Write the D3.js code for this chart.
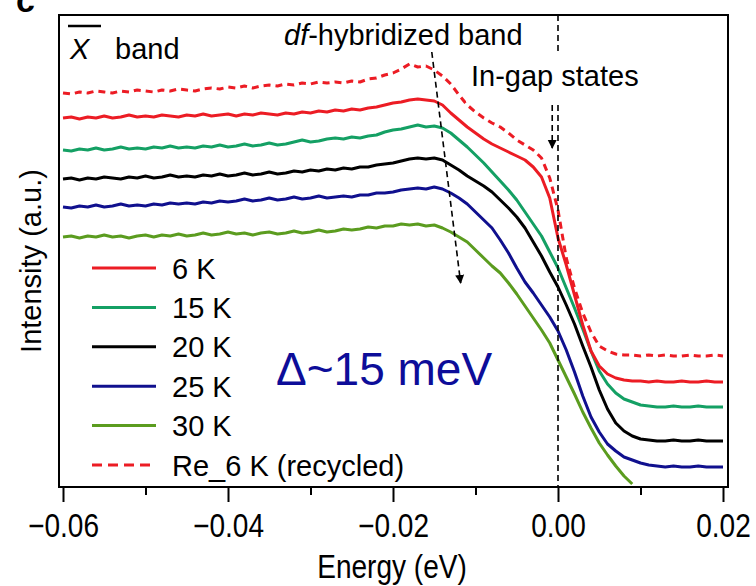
<!DOCTYPE html>
<html>
<head>
<meta charset="utf-8">
<title>ARPES temperature dependence</title>
<script src="https://cdnjs.cloudflare.com/ajax/libs/d3/7.8.5/d3.min.js"></script>
<style>
  body { margin: 0; background: #fff; }
  text { font-family: "Liberation Sans", Arial, Helvetica, sans-serif; }
</style>
</head>
<body>
<svg></svg>
<script>
// energy grid in meV (-60 ... 20, 1 meV step)
var energyMeV = d3.range(-60, 21);

// intensities (a.u.), one value per meV
var re6K = [407,406,408,407,409,408,407,409,408,410,409,408,410,409,411,410,409,411,412,411,
  413,412,414,412,414,415,414,416,415,417,416,418,417,418,417,419,418,421,422,425,
  427,431,436,433,434,430,424,416,405,395,388,382,377,373,367,360,355,350,342,322,
  290,242,212,187,168,154,149,146,145,145,144,145,144,145,144,144,145,144,144,145,144];
var k6 = [382,383,381,383,382,384,382,383,385,383,384,383,385,384,383,385,384,386,384,385,
  386,384,386,385,387,386,385,387,386,388,387,389,388,390,389,391,390,392,393,395,
  397,398,400,401,400,399,395,387,380,373,367,361,356,352,348,344,340,333,323,302,
  262,235,205,175,149,134,126,122,120,119,119,118,119,118,118,119,118,118,119,118,118];
var k15 = [350,349,351,350,352,350,351,353,351,352,351,353,352,354,352,353,352,354,353,355,
  353,354,356,354,355,357,355,356,358,360,358,359,361,362,361,363,362,364,365,368,
  370,371,373,375,373,374,372,367,360,353,345,337,328,319,310,300,288,276,264,248,
  232,212,192,171,149,129,116,107,101,98,95,94,93,93,94,93,93,94,93,93,93];
var k20 = [321,322,320,322,321,323,322,321,323,322,324,322,323,325,323,324,323,325,324,326,
  324,325,327,325,326,328,326,327,329,328,330,329,331,330,332,331,333,333,335,336,
  337,339,341,342,341,342,340,335,330,324,319,314,308,300,292,283,272,258,244,228,
  213,195,176,154,133,110,91,77,69,64,61,60,59,59,60,59,59,60,59,59,59];
var k25 = [293,292,294,293,295,293,294,296,294,295,294,296,295,297,296,297,296,298,297,299,
  298,299,301,299,300,302,300,301,303,301,302,304,302,303,304,303,305,305,307,307,
  308,310,311,312,311,313,311,307,302,296,288,280,272,260,247,232,218,207,195,183,
  169,150,128,104,83,68,56,49,43,40,37,35,34,33,34,33,33,34,33,33,33];
// 30 K trace stops at +9 meV
var k30 = [263,264,262,264,263,265,263,264,262,264,265,263,265,264,266,264,265,267,265,266,
  268,266,267,265,267,268,266,267,269,267,268,270,268,269,271,270,271,273,272,274,
  274,276,275,276,274,275,272,268,263,258,250,242,234,227,217,206,194,182,170,157,
  140,123,106,88,72,57,45,34,24,16];

var seriesNames = ["6 K", "15 K", "20 K", "25 K", "30 K", "Re_6 K (recycled)"];
var seriesValues = [k6, k15, k20, k25, k30, re6K];
var seriesColors = ["#ec1c24", "#14a064", "#000000", "#10108e", "#5b9c1f", "#ec1c24"];
var seriesDash = [null, null, null, null, null, "7,5"];

var majorTicks = [-0.06, -0.04, -0.02, 0.00, 0.02];
var minorTicks = [-0.05, -0.03, -0.01, 0.01];

// annotation arrows: [E_start (eV), I_start, E_end, I_end]
var hybridArrow = [-0.0153, 448, -0.0118, 217];
var gapArrow = [-0.0007, 395, -0.0007, 352];

var w = 756, h = 586;
var frame = {left: 59, right: 728, top: 15, bottom: 487};

var svg = d3.select("svg").attr("width", w).attr("height", h);

var x = d3.scaleLinear().domain([-0.06, 0.02]).range([63, 723]);
var y = d3.scaleLinear().domain([13, 485]).range([487, 15]);

// panel letter, cut off at the top like in the figure
svg.append("text").attr("x", 16).attr("y", 12)
  .style("font-size", "34px").style("font-weight", "bold").text("c");

// curves
var line = d3.line()
  .x(function(d) { return x(d[0] / 1000); })
  .y(function(d) { return y(d[1]); });

// draw bottom to top so the red ones sit on top
for (var s = 4; s >= 0; s--) {
  drawSeries(s);
}
drawSeries(5);

function drawSeries(s) {
  var pts = seriesValues[s].map(function(v, i) { return [energyMeV[i], v]; });
  svg.append("path")
    .datum(pts)
    .attr("d", line)
    .attr("fill", "none")
    .attr("stroke", seriesColors[s])
    .attr("stroke-width", 3)
    .attr("stroke-linejoin", "round")
    .attr("stroke-dasharray", seriesDash[s]);
}

// E_F line
svg.append("line")
  .attr("x1", x(0)).attr("x2", x(0))
  .attr("y1", frame.top).attr("y2", frame.bottom)
  .attr("stroke", "#000").attr("stroke-width", 1.6)
  .attr("stroke-dasharray", "6,4");

// arrows
var defs = svg.append("defs");
defs.append("marker")
  .attr("id", "head")
  .attr("viewBox", "0 0 10 10")
  .attr("refX", 9).attr("refY", 5)
  .attr("markerWidth", 9).attr("markerHeight", 14)
  .attr("markerUnits", "userSpaceOnUse")
  .attr("orient", "auto")
  .append("path").attr("d", "M0,0 L10,5 L0,10 Z").attr("fill", "#000");

[hybridArrow, gapArrow].forEach(function(a) {
  svg.append("line")
    .attr("x1", x(a[0])).attr("y1", y(a[1]))
    .attr("x2", x(a[2])).attr("y2", y(a[3]))
    .attr("stroke", "#000").attr("stroke-width", 1.6)
    .attr("stroke-dasharray", "6,4")
    .attr("marker-end", "url(#head)");
});

// labels inside the frame
var xbar = svg.append("g");
xbar.append("line").attr("x1", 68).attr("x2", 101).attr("y1", 26).attr("y2", 26)
  .attr("stroke", "#000").attr("stroke-width", 2.5);
xbar.append("text").attr("x", 70).attr("y", 59)
  .style("font-size", "29px").style("font-style", "italic").text("X");
xbar.append("text").attr("x", 115).attr("y", 59)
  .style("font-size", "29px").text("band");

var hyb = svg.append("text").attr("x", 284).attr("y", 45).style("font-size", "29px");
hyb.append("tspan").style("font-style", "italic").text("df");
hyb.append("tspan").text("-hybridized band");

svg.append("rect").attr("x", 466).attr("y", 52).attr("width", 184).attr("height", 50)
  .attr("fill", "#fff");
svg.append("text").attr("x", 471).attr("y", 86)
  .style("font-size", "29px").text("In-gap states");

svg.append("text").attr("x", 276).attr("y", 385)
  .style("font-size", "46px").attr("fill", "#0d0d99").text("Δ~15 meV");

// legend
var legend = svg.append("g");
seriesNames.forEach(function(name, i) {
  var ly = 268 + i * 39.4;
  legend.append("line")
    .attr("x1", 92).attr("x2", 156).attr("y1", ly).attr("y2", ly)
    .attr("stroke", seriesColors[i]).attr("stroke-width", 3)
    .attr("stroke-dasharray", seriesDash[i] ? "10,6" : null);
  legend.append("text").attr("x", 172).attr("y", ly + 10.5)
    .style("font-size", "29px").text(name);
});

// frame
svg.append("rect")
  .attr("x", frame.left).attr("y", frame.top)
  .attr("width", frame.right - frame.left).attr("height", frame.bottom - frame.top)
  .attr("fill", "none").attr("stroke", "#000").attr("stroke-width", 2);

// x axis
var axMajor = svg.append("g").attr("transform", "translate(0," + frame.bottom + ")")
  .call(d3.axisBottom(x).tickValues(majorTicks).tickSize(15).tickSizeOuter(0)
    .tickPadding(6).tickFormat(d3.format(".2f")));
var axMinor = svg.append("g").attr("transform", "translate(0," + frame.bottom + ")")
  .call(d3.axisBottom(x).tickValues(minorTicks).tickSize(8).tickSizeOuter(0)
    .tickFormat(""));
[axMajor, axMinor].forEach(function(g) {
  g.select(".domain").remove();
  g.selectAll(".tick line").attr("stroke", "#000").attr("stroke-width", 2);
});
axMajor.selectAll(".tick text")
  .attr("y", 50).attr("dy", null)
  .attr("fill", "#000")
  .attr("transform", "scale(0.85,1)")
  .style("font-size", "33px")
  .style("font-family", "'Liberation Sans', Arial, sans-serif");

svg.append("text")
  .attr("transform", "translate(392,578) scale(0.85,1)")
  .attr("text-anchor", "middle")
  .style("font-size", "33px").text("Energy (eV)");

svg.append("text")
  .attr("transform", "translate(41,261) rotate(-90)")
  .attr("text-anchor", "middle")
  .style("font-size", "29px").text("Intensity (a.u.)");
</script>
</body>
</html>
